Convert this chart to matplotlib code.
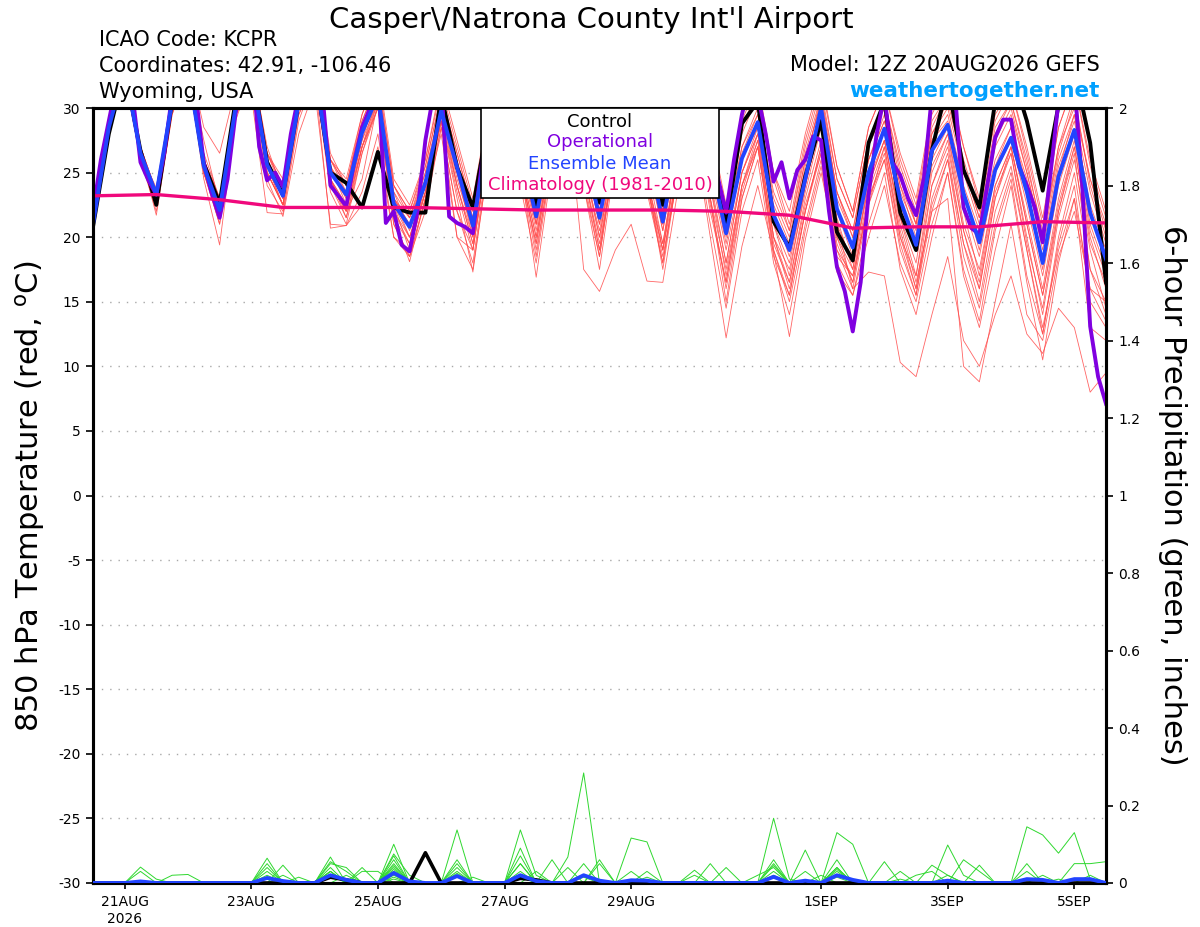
import matplotlib
matplotlib.use("Agg")
import matplotlib.pyplot as plt
import numpy as np
from matplotlib.patches import Rectangle

plt.rcParams['font.family'] = ['DejaVu Sans']

# ---------------- DATA ----------------
# 6-hourly forecast hours since 12Z 20 Aug 2026 (0..384)
hours6 = [h * 6 for h in range(65)]
hours3 = [h * 3 for h in range(129)]
clim_hours = [h * 24 for h in range(17)]

tick_hours = [12, 60, 108, 156, 204, 276, 324, 372]
tick_labels = ["21AUG\n2026", "23AUG", "25AUG", "27AUG", "29AUG", "1SEP", "3SEP", "5SEP"]

temp_control = [20.8,28.0,33.0,26.7, 22.5,30.5,33.3,25.7, 22.6,30.5,33.0,25.8, 23.3,30.5,33.0,25.0,
                24.2,22.3,26.6,22.3, 21.9,21.9,31.0,25.4, 22.3,29.0,32.0,27.0, 22.5,29.0,32.0,27.0,
                22.7,29.0,32.0,27.0, 22.5,29.0,32.0,27.0, 21.0,28.8,30.5,21.2, 19.2,24.7,29.0,20.4,
                18.2,27.3,30.5,21.9, 19.0,26.7,32.0,25.2, 22.3,30.5,33.0,29.0, 23.6,30.2,33.0,27.3, 16.5]

temp_mean = [21.0,28.5,33.0,26.5, 23.3,30.5,33.0,25.5, 22.1,30.0,33.0,25.6, 23.2,30.5,33.0,25.0,
             23.3,28.1,31.0,22.6, 20.8,24.2,29.8,25.4, 20.9,28.0,32.0,27.0, 21.6,28.0,31.0,27.0,
             21.5,28.0,31.0,27.0, 21.2,28.0,31.0,26.0, 20.3,26.1,28.9,21.7, 19.0,24.5,30.0,22.2,
             19.2,25.0,28.4,22.9, 19.4,26.7,28.7,23.4, 19.6,25.2,27.7,23.5, 18.0,24.7,28.3,21.9, 18.3]

# operational run, 3-hourly
temp_oper = [22.0,26.0,29.0,32.0,34.0,31.0,25.8,24.4,23.3,
             26.5,31.0,34.0,34.0,31.0,25.7,23.4,21.5,
             24.5,29.5,33.0,34.0,27.0,24.4,25.0,23.9,
             28.0,31.0,34.0,34.0,31.0,24.0,23.2,22.4,
             25.8,28.5,30.0,33.0,21.1,22.0,19.4,18.9,
             22.0,27.5,31.0,32.0,21.6,21.1,20.8,20.3,
             25.0,30.0,33.0,34.0,32.0,28.0,25.0,23.5,
             27.0,31.0,33.0,34.0,32.0,28.0,25.0,23.5,
             27.0,31.0,33.0,34.0,32.0,28.0,25.0,23.5,
             27.0,31.0,33.0,34.0,32.0,27.0,24.5,21.9,
             26.0,29.5,32.0,31.0,28.0,24.3,25.8,23.0,
             25.2,26.0,27.8,27.5,22.0,17.7,15.8,12.7,
             16.5,23.3,27.9,31.0,25.8,24.8,23.0,21.7,
             24.6,31.0,33.0,34.0,30.5,22.3,20.7,20.2,
             24.0,27.7,29.1,29.1,25.5,24.0,22.3,19.6,
             25.0,30.5,33.0,32.0,24.0,13.1,9.2,7.1]

temp_clim = [23.2, 23.3, 22.9, 22.3, 22.3, 22.3, 22.2, 22.1, 22.1, 22.1, 22.0, 21.7, 20.7, 20.8, 20.8, 21.2, 21.1]

temp_members = [
 [21.2,28.0,33.0,26.0, 22.8,30.0,33.5,25.0, 21.5,29.5,33.0,25.0, 22.5,30.0,33.0,24.0, 22.0,27.0,31.0,22.0, 19.5,24.0,30.5,25.0, 20.0,28.0,32.0,26.0, 20.5,27.5,31.0,26.0, 20.0,27.0,31.0,25.5, 19.5,27.0,30.5,24.5, 18.0,25.0,28.0,20.0, 17.5,23.5,28.5,21.0, 18.0,24.0,27.5,21.5, 17.0,25.0,28.0,21.0, 17.5,24.0,27.0,21.0, 15.5,22.0,27.0,20.0, 16.0],
 [21.5,29.0,33.5,27.0, 23.5,31.0,34.0,28.5, 26.5,31.5,34.0,26.5, 24.0,31.5,34.0,26.0, 24.5,29.5,33.0,24.5, 22.5,26.0,32.0,27.5, 23.0,30.0,34.0,29.0, 23.5,30.0,33.0,29.0, 23.5,30.0,33.0,29.0, 23.0,30.5,33.0,28.5, 22.5,29.0,32.0,25.0, 22.0,28.0,32.5,25.5, 22.0,28.5,31.5,26.0, 22.5,29.5,32.0,27.0, 23.0,29.0,31.5,27.0, 21.5,28.5,32.0,25.5, 21.5],
 [20.5,28.0,32.5,26.0, 22.0,29.5,33.0,24.5, 19.4,29.0,32.5,24.0, 22.0,29.5,32.5,23.5, 21.0,26.5,30.5,21.5, 18.1,23.0,29.0,23.0, 17.3,26.0,31.0,25.0, 18.5,26.5,30.0,24.0, 17.5,26.0,30.0,23.5, 18.0,26.0,29.5,23.0, 15.0,23.0,27.0,18.5, 15.5,22.0,27.0,19.5, 16.5,23.0,26.0,19.0, 15.5,23.0,26.5,19.5, 15.0,22.0,25.5,19.0, 12.5,20.0,25.0,17.5, 14.0],
 [21.0,28.5,33.0,26.5, 23.5,30.5,33.0,25.5, 22.5,30.0,33.0,26.0, 23.0,30.5,33.0,25.5, 23.5,28.5,31.5,23.0, 21.0,24.5,30.0,25.5, 21.0,28.5,32.5,27.5, 22.0,28.5,31.5,27.5, 22.0,28.5,31.5,27.0, 21.5,28.5,31.0,26.5, 20.5,26.5,29.5,22.5, 19.5,25.0,30.0,23.0, 20.0,26.0,29.0,23.5, 20.5,27.5,29.5,24.0, 20.5,26.0,28.5,24.5, 19.0,25.5,29.0,22.5, 19.0],
 [21.3,28.5,33.0,26.5, 23.0,30.0,33.0,25.0, 21.8,30.0,33.0,24.5, 21.6,28.0,31.5,21.0, 20.9,22.5,27.0,20.0, 18.5,22.0,28.5,22.0, 19.0,27.0,31.5,25.5, 19.0,26.0,30.0,17.5, 15.8,19.0,21.0,16.6, 16.5,24.0,29.0,22.0, 16.5,24.0,28.0,20.0, 16.0,22.0,26.5,19.0, 17.0,22.5,27.0,20.5, 16.0,22.5,26.0,18.5, 14.5,21.0,25.0,19.0, 13.0,19.0,23.0,16.0, 13.5],
 [20.8,28.0,33.0,26.5, 23.0,30.5,33.5,25.5, 22.0,30.0,33.0,25.5, 23.0,30.0,32.5,24.5, 22.5,27.5,30.5,22.0, 20.0,24.0,30.0,24.5, 20.5,27.5,31.5,26.0, 21.0,27.5,30.5,25.5, 20.5,27.0,30.0,24.0, 19.0,25.5,28.0,20.0, 12.2,19.3,24.0,18.8, 12.3,19.8,25.0,19.0, 16.0,22.5,26.0,19.5, 15.5,22.0,26.0,19.5, 16.0,23.0,27.0,21.0, 15.5,22.5,27.0,19.5, 16.5],
 [21.0,28.5,33.0,26.0, 23.5,31.0,33.5,26.0, 22.5,30.5,33.5,26.0, 23.5,31.0,33.0,25.5, 23.0,28.0,31.0,23.0, 21.5,25.0,30.5,26.0, 21.5,28.5,32.5,27.5, 22.0,28.5,31.5,27.0, 21.5,28.0,31.5,27.0, 21.0,28.0,31.0,26.0, 20.0,26.0,29.0,22.0, 18.5,24.0,29.0,21.0, 16.0,17.3,17.0,10.3, 9.2,14.0,18.5,12.0, 10.0,14.0,17.0,12.5, 11.0,14.5,13.0,8.0, 9.5],
 [21.2,28.5,33.0,26.5, 23.2,30.5,33.0,25.5, 21.5,30.0,33.0,25.0, 22.5,30.0,32.5,24.5, 21.5,27.0,30.0,21.0, 18.5,23.0,28.5,22.0, 18.0,26.5,31.0,25.5, 16.9,25.5,30.0,24.0, 18.5,26.5,30.5,24.5, 19.0,27.0,30.0,24.0, 17.0,24.0,27.5,20.0, 16.5,23.0,27.5,20.0, 17.5,24.5,27.5,21.0, 16.5,22.0,23.0,10.0, 8.8,15.0,21.0,14.0, 12.0,18.5,22.0,16.0, 15.0],
 [21.5,29.0,33.5,27.0, 23.5,31.0,33.5,26.0, 23.0,31.0,34.0,26.5, 24.5,31.5,34.0,26.5, 24.0,29.5,32.5,24.0, 22.0,26.0,31.5,27.0, 22.5,29.5,33.5,28.5, 23.0,29.5,32.5,28.5, 22.5,29.5,32.5,28.0, 22.0,29.5,32.5,27.5, 21.0,28.0,31.0,24.5, 20.5,27.0,31.5,24.5, 21.5,27.5,30.5,25.0, 21.0,28.5,31.0,25.5, 21.5,28.0,30.5,26.0, 20.0,27.0,31.0,24.0, 20.0],
 [20.9,28.0,32.5,26.0, 22.5,30.0,33.0,25.0, 21.0,29.5,31.0,21.9, 21.8,29.0,32.5,20.7, 20.9,23.5,28.0,20.0, 19.0,23.5,29.0,20.0, 19.0,27.0,31.0,25.0, 19.5,26.5,30.0,25.0, 19.0,26.5,30.0,24.0, 18.0,25.5,29.0,23.0, 16.0,23.0,27.0,19.0, 15.0,21.0,26.0,18.0, 15.5,21.0,25.0,17.5, 14.0,20.0,25.0,17.0, 13.0,19.0,24.0,16.5, 10.5,18.0,23.0,13.0, 12.0],
 [21.0,28.5,33.0,26.5, 23.0,30.5,33.0,25.5, 22.5,30.0,33.0,25.5, 23.0,30.0,32.5,25.0, 23.5,28.0,30.5,23.5, 20.5,24.0,29.5,25.5, 21.5,28.5,32.5,27.0, 22.0,28.5,31.5,27.5, 22.0,28.5,31.5,27.0, 21.5,28.5,31.5,26.5, 21.0,27.0,30.0,23.0, 20.0,26.0,30.5,23.5, 20.5,26.0,29.5,24.0, 21.0,28.0,30.0,25.0, 21.0,27.0,29.5,25.0, 19.5,26.0,29.5,23.5, 19.5],
 [21.2,28.5,33.0,26.5, 23.4,30.5,33.0,25.5, 22.5,30.5,33.5,26.0, 23.5,31.0,33.5,25.5, 22.5,27.5,31.5,23.0, 21.0,25.0,30.0,24.0, 20.0,28.0,32.0,26.5, 21.0,28.0,31.0,26.5, 21.0,28.0,31.0,26.0, 20.5,27.5,30.5,25.0, 19.0,25.0,28.0,21.5, 19.0,25.5,31.0,23.5, 20.0,26.0,29.0,24.0, 20.0,27.5,29.0,23.5, 19.0,25.5,28.5,24.0, 17.5,25.0,29.5,22.0, 18.0],
 [21.0,28.5,33.0,27.0, 23.5,31.0,33.5,27.5, 22.5,30.5,33.5,27.0, 23.5,31.0,33.5,26.0, 24.0,29.0,32.0,24.0, 21.5,24.5,30.0,25.0, 21.0,28.0,32.0,27.0, 21.5,28.0,31.0,27.0, 21.5,28.0,31.0,26.5, 21.0,28.0,30.5,26.0, 20.5,27.0,29.5,23.5, 20.5,26.5,31.0,24.5, 21.5,27.5,30.5,25.5, 22.0,29.0,31.0,26.0, 22.0,28.5,30.5,25.5, 20.5,27.0,30.0,24.5, 20.5],
 [21.0,28.0,32.5,26.0, 22.5,30.0,32.5,25.0, 21.5,29.5,32.5,25.0, 22.5,29.5,32.0,24.5, 22.5,27.0,30.5,22.5, 20.0,23.5,29.0,24.0, 19.5,27.0,31.0,25.5, 20.0,27.0,30.0,25.5, 20.0,27.0,30.0,24.5, 19.5,26.5,29.0,23.0, 17.5,24.0,27.0,19.5, 16.5,22.5,26.5,17.3, 15.5,20.0,24.0,18.0, 15.0,21.0,25.0,17.5, 13.5,20.5,24.5,17.0, 12.5,19.5,24.0,15.0, 13.0],
 [21.3,29.0,33.5,27.0, 23.5,31.0,33.5,26.5, 23.0,30.5,33.5,26.5, 24.0,31.0,33.5,26.0, 23.5,28.5,31.0,23.5, 21.5,25.5,31.0,26.5, 22.0,29.0,33.0,28.0, 22.5,29.0,32.0,28.0, 22.5,29.0,32.0,27.5, 22.0,29.0,32.0,27.0, 21.5,28.5,31.5,25.0, 21.0,27.5,32.0,25.5, 22.0,28.5,31.5,26.5, 23.0,30.0,32.5,27.0, 22.5,29.5,31.5,26.5, 21.0,28.5,32.0,26.0, 22.0],
 [20.8,28.0,33.0,26.5, 23.0,30.0,33.0,25.0, 22.0,30.0,33.0,25.5, 22.5,30.0,33.0,25.0, 23.0,28.0,31.0,23.0, 20.0,24.0,30.0,25.0, 20.5,28.0,32.0,27.0, 21.0,28.0,31.0,26.5, 21.0,28.0,31.0,26.5, 20.5,27.5,30.5,25.5, 19.5,26.0,29.0,21.0, 18.0,24.0,29.5,22.0, 18.5,25.0,28.5,22.5, 19.0,26.0,28.5,22.5, 18.5,25.0,27.5,22.5, 17.0,24.0,28.0,21.0, 17.5],
 [21.2,28.5,33.0,26.0, 23.0,30.5,33.0,25.5, 22.0,30.0,33.0,25.5, 23.0,30.5,33.0,24.5, 22.0,27.0,30.0,22.5, 19.0,23.5,29.5,24.0, 19.5,27.0,31.5,25.5, 20.0,27.0,30.5,25.0, 19.5,26.5,30.0,24.0, 18.5,25.0,28.0,21.0, 14.5,22.0,26.0,18.0, 14.0,20.5,25.5,18.5, 17.0,23.5,27.0,20.0, 16.0,24.0,27.5,20.5, 16.5,23.5,26.5,19.5, 14.5,22.0,26.5,17.5, 15.0],
 [21.0,28.5,33.0,26.5, 23.3,30.5,33.0,25.5, 22.0,30.0,33.0,25.5, 22.5,30.0,32.5,24.5, 22.0,24.5,30.5,21.0, 18.5,23.0,28.0,20.0, 17.5,26.0,30.5,24.0, 18.0,26.0,30.0,24.5, 18.5,26.5,30.0,24.5, 19.0,26.5,30.0,24.0, 18.0,25.0,28.5,21.0, 17.0,24.0,29.0,21.5, 17.5,24.0,27.5,21.5, 18.0,25.5,28.0,22.0, 17.0,24.0,27.0,21.5, 16.0,23.0,27.5,20.5, 17.0],
 [21.4,29.0,33.5,26.5, 23.8,31.0,33.5,26.0, 23.0,30.5,33.5,26.5, 23.5,31.0,33.5,26.0, 24.0,29.0,32.0,24.0, 22.0,25.5,31.0,26.5, 22.0,29.0,33.0,28.0, 22.5,29.0,32.0,28.0, 22.0,29.0,32.0,27.5, 22.0,29.0,31.5,26.5, 20.5,26.0,28.5,21.0, 19.5,26.0,30.5,23.5, 20.5,27.0,30.0,24.5, 21.0,28.0,30.5,25.5, 21.5,27.5,30.0,25.0, 20.0,26.5,30.5,24.5, 21.0],
 [21.0,28.5,33.0,26.5, 21.7,29.5,33.0,25.0, 21.0,29.5,33.0,25.0, 22.5,30.0,32.5,24.0, 21.5,26.5,30.0,21.5, 19.5,23.5,29.0,23.5, 19.0,27.0,31.0,25.0, 19.5,27.0,30.5,25.0, 19.0,26.5,30.0,24.5, 17.5,25.5,29.0,22.5, 16.5,23.5,27.5,19.0, 15.5,22.0,27.0,20.0, 16.5,23.0,26.5,20.0, 17.0,24.0,27.0,20.5, 16.0,23.0,26.5,20.0, 14.0,21.5,26.0,19.0, 14.5],
]

# 6-hour precipitation (inches): only the non-zero steps {step index: value}
precip_members = [
 {11:0.064, 15:0.067, 19:0.10, 23:0.137, 30:0.067, 31:0.284},
 {3:0.041, 4:0.01, 15:0.05, 16:0.04, 19:0.075, 20:0.02, 27:0.137, 28:0.02},
 {12:0.046, 19:0.06, 23:0.06, 27:0.09, 34:0.116, 35:0.106},
 {3:0.03, 5:0.02, 6:0.022, 11:0.05, 17:0.04, 19:0.05, 27:0.07, 43:0.167, 44:0.01},
 {15:0.055, 16:0.03, 19:0.045, 23:0.05, 29:0.06, 32:0.05, 47:0.13, 48:0.10},
 {11:0.04, 13:0.015, 15:0.04, 19:0.07, 27:0.05, 34:0.03, 39:0.05, 43:0.06, 45:0.085, 53:0.046, 54:0.02},
 {59:0.145, 60:0.124, 61:0.077, 62:0.13, 63:0.01},
 {11:0.03, 15:0.03, 17:0.03, 18:0.03, 23:0.04, 28:0.03, 35:0.03, 38:0.033, 40:0.04, 47:0.06, 50:0.055, 54:0.098, 55:0.02},
 {19:0.04, 23:0.03, 27:0.05, 30:0.04, 32:0.06, 43:0.05, 47:0.04, 51:0.03, 55:0.06, 56:0.03, 62:0.05, 63:0.05, 64:0.055},
 {12:0.02, 15:0.03, 19:0.03, 31:0.05, 38:0.02, 42:0.02, 43:0.04, 45:0.03, 52:0.02, 53:0.03, 56:0.046, 59:0.05, 63:0.02},
 {15:0.02, 19:0.02, 23:0.02, 27:0.03, 43:0.03, 47:0.03, 54:0.02},
 {15:0.03, 19:0.035, 24:0.015, 27:0.02, 43:0.045, 46:0.02},
 {16:0.02, 19:0.025, 31:0.02, 35:0.015, 47:0.04, 51:0.01},
 {11:0.02, 23:0.025, 47:0.035, 60:0.02},
 {19:0.015, 43:0.02, 59:0.03, 61:0.01},
 {27:0.015},
 {31:0.015, 43:0.015},
 {},
 {19:0.01},
 {47:0.015},
]
precip_control = {15:0.015, 16:0.008, 21:0.078, 27:0.012, 28:0.008}
precip_mean = {3:0.004, 11:0.013, 12:0.005, 15:0.02, 16:0.008, 19:0.026, 20:0.004, 23:0.018,
               27:0.02, 28:0.005, 31:0.02, 32:0.006, 34:0.007, 35:0.006, 43:0.016, 45:0.006,
               47:0.02, 48:0.008, 54:0.006, 59:0.01, 60:0.008, 62:0.01, 63:0.01}

temp_ticks = list(range(-30, 31, 5))
precip_ticks = [0, 0.2, 0.4, 0.6, 0.8, 1, 1.2, 1.4, 1.6, 1.8, 2]
precip_tick_labels = ["0", "0.2", "0.4", "0.6", "0.8", "1", "1.2", "1.4", "1.6", "1.8", "2"]

# ---------------- COLORS ----------------
C_MEMBER = '#FF4A4A'
C_PRECIP = '#2FD82F'
C_CONTROL = '#000000'
C_OPER = '#8000E0'
C_MEAN = '#2244FF'
C_CLIM = '#F0087C'
C_SITE = '#00A0FF'


def series_from(d, n=65):
    arr = np.zeros(n)
    for k, v in d.items():
        arr[k] = v
    return arr


W, H = 1200, 927
fig = plt.figure(figsize=(W / 100, H / 100), dpi=100)
L, R, T, B = 93, 1106, 108, 883
ax = fig.add_axes([L / W, 1 - B / H, (R - L) / W, (B - T) / H])

for m in temp_members:
    ax.plot(hours6, m, color=C_MEMBER, lw=0.6, alpha=0.85, zorder=2)
ax.plot(hours6, temp_control, color=C_CONTROL, lw=2.8, zorder=3)
ax.plot(hours3, temp_oper, color=C_OPER, lw=2.8, zorder=4)
ax.plot(hours6, temp_mean, color=C_MEAN, lw=2.8, zorder=5)
ax.plot(clim_hours, temp_clim, color=C_CLIM, lw=2.4, zorder=6)

ax.set_xlim(0, 384)
ax.set_ylim(-30, 30)
ax.set_yticks(temp_ticks)
ax.set_yticklabels([str(t) for t in temp_ticks])
ax.set_xticks(tick_hours)
ax.set_xticklabels(tick_labels, linespacing=1.2)
ax.yaxis.grid(True, linestyle=(0, (1, 5)), color='#A8A8A8', lw=1.0)
ax.tick_params(axis='y', direction='out', length=5, width=1.2, labelsize=10, pad=4)
ax.tick_params(axis='x', direction='out', length=4, width=1.2, labelsize=10, pad=5)
for s in ax.spines.values():
    s.set_linewidth(2.2)

ax2 = ax.twinx()
ax2.set_ylim(0, 2)
for m in precip_members:
    ax2.plot(hours6, series_from(m), color=C_PRECIP, lw=0.7, zorder=2)
ax2.plot(hours6, series_from(precip_control), color=C_CONTROL, lw=2.6, zorder=3)
ax2.plot(hours6, series_from(precip_mean), color=C_MEAN, lw=2.8, zorder=4)
ax2.set_yticks(precip_ticks)
ax2.set_yticklabels(precip_tick_labels)
ax2.tick_params(axis='y', direction='out', length=5, width=1.2, labelsize=10, pad=4)
for s in ax2.spines.values():
    s.set_linewidth(2.2)

# legend box
lx0, lx1, ly0, ly1 = 481, 719, 198, 108
x0 = (lx0 - L) / (R - L)
x1 = (lx1 - L) / (R - L)
y0 = (B - ly0) / (B - T)
y1 = (B - ly1) / (B - T)
ax2.add_patch(Rectangle((x0, y0), x1 - x0, y1 - y0, transform=ax2.transAxes,
                        facecolor='white', edgecolor='black', lw=1.2, zorder=20, clip_on=False))
legend_items = [("Control", C_CONTROL, 122), ("Operational", C_OPER, 142),
                ("Ensemble Mean", C_MEAN, 164), ("Climatology (1981-2010)", C_CLIM, 185)]
xc = ((lx0 + lx1) / 2 - L) / (R - L)
for txt, col, ypx in legend_items:
    ax2.text(xc, (B - ypx) / (B - T), txt, color=col, fontsize=13, ha='center', va='center',
             transform=ax2.transAxes, zorder=21)

# titles and header
fig.text(591 / W, 1 - 28 / H, "Casper\\/Natrona County Int'l Airport", fontsize=21,
         ha='center', va='baseline')
fig.text(99 / W, 1 - 46 / H, "ICAO Code: KCPR", fontsize=15, va='baseline')
fig.text(99 / W, 1 - 72 / H, "Coordinates: 42.91, -106.46", fontsize=15, va='baseline')
fig.text(99 / W, 1 - 98 / H, "Wyoming, USA", fontsize=15, va='baseline')
fig.text(1100 / W, 1 - 71 / H, "Model: 12Z 20AUG2026 GEFS", fontsize=15, ha='right', va='baseline')
fig.text(1100 / W, 1 - 97 / H, "weathertogether.net", fontsize=15.5, ha='right', va='baseline',
         color=C_SITE, fontweight='bold')

fig.text(30 / W, 1 - 496 / H, "850 hPa Temperature (red, $^{\\mathrm{o}}$C)", fontsize=22,
         rotation=90, ha='center', va='center')
fig.text(1172 / W, 1 - 495 / H, "6-hour Precipitation (green, inches)", fontsize=22,
         rotation=270, ha='center', va='center')

fig.savefig("out.png", dpi=100)
